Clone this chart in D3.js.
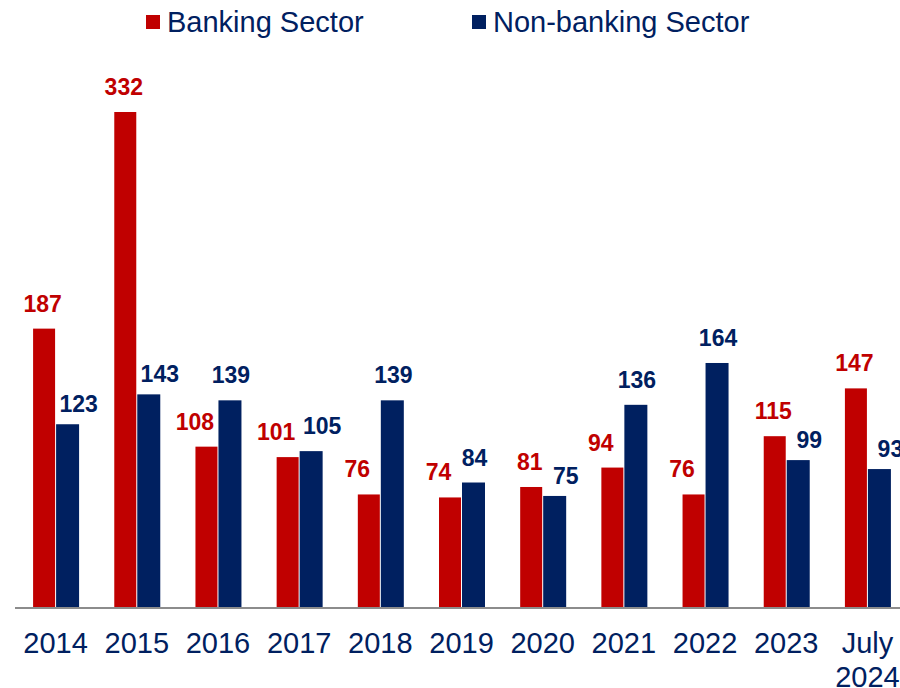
<!DOCTYPE html>
<html>
<head>
<meta charset="utf-8">
<script src="https://cdn.jsdelivr.net/npm/d3@7"></script>
<style>
  body { margin: 0; background: #fff; }
  svg { display: block; font-family: "Liberation Sans", Arial, sans-serif; }
</style>
</head>
<body>
<svg id="chart" width="900" height="688"></svg>
<script>
// Data
var years = ["2014", "2015", "2016", "2017", "2018", "2019", "2020", "2021", "2022", "2023", "July 2024"];
var banking = [187, 332, 108, 101, 76, 74, 81, 94, 76, 115, 147];
var nonBanking = [123, 143, 139, 105, 139, 84, 75, 136, 164, 99, 93];
var seriesNames = ["Banking Sector", "Non-banking Sector"];

var red = "#C00000", navy = "#002060";
var width = 900, height = 688;
var baseY = 608;

var svg = d3.select("#chart");

// scales
var x = d3.scaleBand().domain(years).range([15, 908]).padding(0);
var y = d3.scaleLinear().domain([0, 332]).range([baseY, 112]);

var barW = 22;

var data = years.map(function (d, i) {
    return { year: d, b: banking[i], n: nonBanking[i] };
});

// bars
var g = svg.append("g");
var groups = g.selectAll(".grp")
    .data(data)
    .enter().append("g")
    .attr("transform", function (d) { return "translate(" + (x(d.year) + x.bandwidth() / 2) + ",0)"; });

groups.append("rect")
    .attr("x", -barW - 0.5)
    .attr("y", function (d) { return y(d.b); })
    .attr("width", barW)
    .attr("height", function (d) { return baseY - y(d.b); })
    .attr("fill", red);

groups.append("rect")
    .attr("x", 0.5)
    .attr("y", function (d) { return y(d.n); })
    .attr("width", barW + 1)
    .attr("height", function (d) { return baseY - y(d.n); })
    .attr("fill", navy);

// value labels, nudged outward (more for the shorter bar, both when nearly equal)
function close(d) { return Math.abs(y(d.b) - y(d.n)) < 8; }

groups.append("text")
    .attr("x", function (d) { return -barW / 2 - (d.b < d.n || close(d) ? 12 : 2); })
    .attr("y", function (d) { return y(d.b) - 17; })
    .attr("text-anchor", "middle")
    .attr("fill", red)
    .style("font-size", "23px")
    .style("font-weight", "bold")
    .text(function (d) { return d.b; });

groups.append("text")
    .attr("x", function (d) { return barW / 2 + (d.n < d.b || close(d) ? 12 : 2); })
    .attr("y", function (d) { return y(d.n) - (d.n < d.b ? 12 : 17); })
    .attr("text-anchor", "middle")
    .attr("fill", navy)
    .style("font-size", "23px")
    .style("font-weight", "bold")
    .text(function (d) { return d.n; });

// x axis
var xAxis = svg.append("g")
    .attr("transform", "translate(0," + baseY + ")")
    .call(d3.axisBottom(x).tickSize(0).tickPadding(0));
xAxis.select(".domain").attr("stroke", "#8c8c8c").attr("stroke-width", 2).attr("d", "M15,0H900");
xAxis.selectAll(".tick text").remove();
xAxis.selectAll(".tick").each(function (d) {
    var t = d3.select(this).append("text")
        .attr("text-anchor", "middle")
        .attr("fill", navy)
        .style("font-size", "29px");
    var parts = d.split(" ");
    parts.forEach(function (p, i) {
        t.append("tspan").attr("x", 0).attr("y", 45 + i * 34).text(p);
    });
});

// legend
var legend = svg.append("g");
var legItems = [
    { name: seriesNames[0], color: red, x: 146 },
    { name: seriesNames[1], color: navy, x: 472 }
];
legItems.forEach(function (it) {
    legend.append("rect")
        .attr("x", it.x).attr("y", 15)
        .attr("width", 14).attr("height", 14)
        .attr("fill", it.color);
    legend.append("text")
        .attr("x", it.x + 21).attr("y", 32)
        .attr("fill", navy)
        .style("font-size", "29px")
        .text(it.name);
});
</script>
</body>
</html>
